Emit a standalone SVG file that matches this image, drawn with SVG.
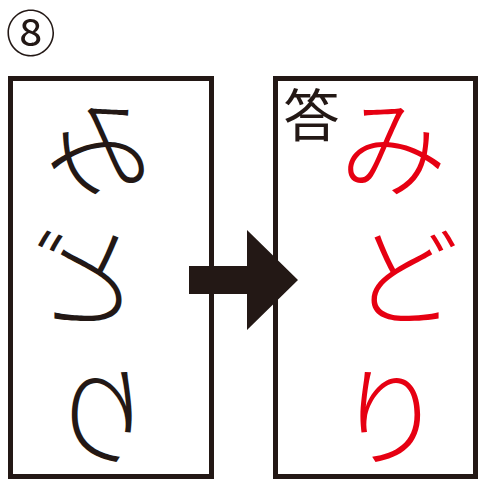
<svg xmlns="http://www.w3.org/2000/svg" width="480" height="481" viewBox="0 0 480 481">
<style>
.box{fill:#ffffff;stroke:#231815;stroke-width:5}
.kana{font-family:"Noto Sans CJK JP","Noto Sans CJK SC",sans-serif;font-size:108px;font-weight:300;text-anchor:middle}
.blk{fill:#231815}
.red{fill:#e60012}
</style>
<rect width="480" height="481" fill="#ffffff"/>
<g id="label">
<text x="30.7" y="52" font-family="'Noto Sans CJK JP','DejaVu Sans',sans-serif" font-size="50" text-anchor="middle" class="blk">⑧</text>
</g>
<g id="question">
<rect class="box" x="10.5" y="78.5" width="201" height="398"/>
<g transform="matrix(-1 0 0 1 198 0)"><text class="kana blk" x="99" y="188">み</text></g>
<g transform="matrix(-1 0 0 1 176 0)"><text class="kana blk" x="88" y="317">ど</text></g>
<g transform="matrix(-1 0 0 1 204 0)"><text class="kana blk" x="102" y="457">り</text></g>
</g>
<g id="answer">
<rect class="box" x="275.5" y="78.5" width="200" height="398"/>
<text x="311.5" y="136" font-family="'Noto Sans CJK JP',sans-serif" font-size="56" text-anchor="middle" class="blk">答</text>
<text class="kana red" x="393" y="188">み</text>
<text class="kana red" x="405" y="317">ど</text>
<text class="kana red" x="390" y="457">り</text>
</g>
<g id="connectors">
<polygon class="blk" points="189,266 247,266 247,230 298,280 247,330 247,294 189,294"/>
</g>
</svg>
